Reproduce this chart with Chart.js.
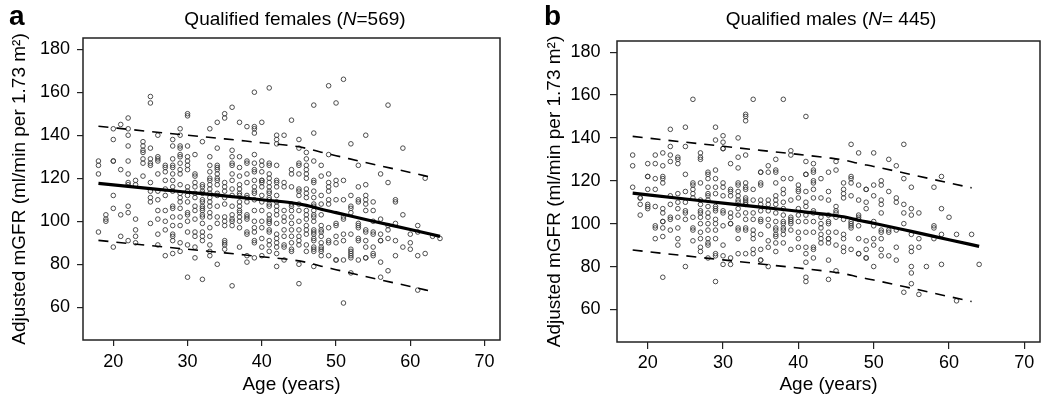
<!DOCTYPE html>
<html><head><meta charset="utf-8">
<script src="https://cdn.jsdelivr.net/npm/chart.js@4.4.0/dist/chart.umd.min.js"></script>
<style>
html,body{margin:0;padding:0;background:#fff;}
body{width:1050px;height:405px;position:relative;overflow:hidden;font-family:"Liberation Sans",Arial,sans-serif;}
.cw{position:absolute;top:0;height:405px;}
.lbl{position:absolute;font-weight:bold;font-size:28px;line-height:1;color:#000;}
.ttl{position:absolute;font-size:19px;line-height:1;color:#000;white-space:nowrap;transform:translateX(-50%);}
</style></head><body>
<div class="cw" style="left:0;width:520px"><canvas id="ca" width="520" height="405"></canvas></div>
<div class="cw" style="left:535px;width:515px"><canvas id="cb" width="515" height="405"></canvas></div>
<div class="lbl" style="left:9px;top:2px">a</div>
<div class="lbl" style="left:544px;top:2px">b</div>
<div class="ttl" style="left:295px;top:9px">Qualified females (<i>N</i>=569)</div>
<div class="ttl" style="left:831px;top:9px">Qualified males (<i>N</i>= 445)</div>
<script>
// ---- data ----
const ageGroups = [18,19,20,21,22,23,24,25,26,27,28,29,30,31,32,33,34,35,36,37,38,39,40,41,42,43,44,45,46,47,48,49,50,51,52,53,54,55,56,57,58,59,60,61,62,63,64];
const femaleGFR = [
[128,126,122,95],
[103,101,100],
[143,138,128,128,112,106,88],
[145,124,103,93],
[148,143,140,135,128,122,118,117,107,104,91],
[119,117,101,96,93,90],
[137,135,133,132,129,127,121],
[158,155,134,129,127,126,118,114,111,109,99],
[140,130,129,128,122,114,110,105,101,94,89],
[126,125,123,119,115,112,105,100,96,84],
[138,135,129,126,125,122,119,116,114,107,106,102,98,94,93,91,85],
[143,140,135,134,131,130,127,124,122,117,113,111,109,106,102,98,90,86],
[150,149,135,130,128,126,124,116,114,112,109,104,103,100,95,89,74],
[131,122,121,118,116,113,111,107,105,101,95,93,88,83],
[137,117,116,114,113,110,109,107,106,105,103,102,99,95,93,91,73],
[143,130,126,123,120,119,117,115,113,111,109,107,104,102,97,93,89,86,84],
[146,134,126,125,124,122,120,119,117,113,112,107,102,99,80],
[150,148,118,116,114,111,108,102,100,98,91,90,89,87],
[153,133,130,127,126,122,119,115,112,107,103,101,100,98,70],
[146,130,125,121,117,115,113,112,109,107,105,104,102,100,97,88],
[144,128,127,122,118,112,111,109,103,102,101,95,94,84,81],
[160,144,143,141,131,127,124,123,119,116,114,113,110,105,100,97,95,91,90,83],
[146,128,126,123,119,119,118,116,112,109,105,100,97,92,88,84],
[162,127,126,122,120,118,116,114,113,111,110,108,107,103,101,100,99,96,95,91,89,86],
[140,138,136,126,119,118,116,112,109,107,105,103,99,94,92,90,88,85,79],
[140,118,116,105,102,100,96,93,89,88,82],
[147,124,122,116,108,107,105,102,99,96,93,90,87,86],
[138,134,127,126,122,115,114,112,108,105,100,96,93,91,89,80,71],
[132,129,126,124,122,120,115,113,111,105,103,101,98,96,94,89,86],
[154,141,128,119,118,114,111,108,107,105,103,102,100,96,95,94,92,91,88,87,86,79],
[126,121,112,108,103,98,96,95,93,90,88,87,86,84],
[163,131,122,118,116,114,110,108,97,91,90,84],
[155,119,117,110,99,98,93,90,82,82],
[166,119,110,102,101,94,91,82,62],
[136,112,107,106,104,94,87,86,85,84,83,76],
[126,116,110,109,99,98,97,92,91,82],
[140,117,112,110,108,105,96,95,91,88,83,83],
[109,105,100,95,94,88,85,84],
[122,101,94,91,91,81,74],
[154,118,98,96,92,77],
[110,109,99,91,84],
[134,103,88],
[94,90,87],
[98,95,84,68],
[120,85],
[93],
[92]
];
const maleGFR = [
[132,127,117],
[112,112,109,104],
[128,122,122,116,109,108,107],
[132,128,121,116,108,99,98,93],
[133,127,122,121,119,107,105,101,101,98,94,75],
[144,136,132,129,113,109,103,102,97],
[131,130,128,114,110,107,103,98,93,90],
[145,136,123,115,110,106,105,102,80],
[158,119,118,116,114,112,103,98,97,92],
[133,131,130,119,111,109,106,105,103,100,96,93,89,87],
[124,123,121,117,114,113,111,108,105,103,100,97,93,91,90,84],
[145,139,125,121,117,114,108,107,106,102,100,97,93,86,85,73],
[141,138,135,135,119,117,113,106,105,99,90,85,81],
[128,116,115,113,105,103,100,100,84,81],
[140,131,126,119,118,115,113,111,110,107,104,98,97,93,86],
[151,150,148,132,119,117,116,112,111,110,109,105,102,98,97,86],
[158,116,111,105,102,97,95,93,88,86],
[124,124,119,118,111,109,106,102,101,95,88,83,83],
[127,124,111,109,106,102,99,92,89,80],
[130,125,124,119,113,111,109,105,101,98,97,95,94,91,87],
[158,121,116,114,110,107,104,101,100,98,97,95,91],
[134,132,121,111,103,102,101,100,97,88],
[118,116,115,112,107,104,101,96,93,89],
[150,129,123,123,115,110,108,104,101,96,89,86,82,75,73],
[128,125,124,120,119,116,112,106,105,101,96,89,88,84],
[121,112,103,100,98,95,93,91],
[124,115,111,104,101,100,96,93,93,91,83,74],
[129,125,108,106,105,103,96,90,78],
[119,116,114,112,102,95,93,89,87],
[137,122,121,119,113,101,100,99,98,88],
[133,118,111,104,103,102,99,93,86,86],
[116,116,110,107,92,88,84,84],
[133,118,113,101,99,93,90,80],
[120,118,111,109,105,97,96,93,88,85],
[130,115,97,96,85],
[127,112,110,97,89,83],
[137,121,109,105,100,68],
[117,107,104,95,89,87,80,77,72],
[105,93,89,67],
[80],
[117,99,98,93],
[122,107,95,81],
[103],
[95,64],
[],
[95],
[81]
];
const fitAges = [18,25,30,35,40,44,46,48,50,55,60,64];
const femaleFit = [117.6,115.2,113.5,111.8,110,108.6,107.4,105.6,104,100,96.2,93];
const maleFit = [114.2,111.5,109.6,107.7,105.8,104.2,103.2,101.6,100.2,96.4,92.5,89.4];
const bandAges = [18,25,30,35,40,44,46,48,50,55,60,63];
const femaleUpper = [144.2,141.7,140,138.3,136.5,135.1,133.9,132.1,130.5,126.5,122.7,120.3];
const femaleLower = [91.1,88.7,87,85.3,83.5,82.1,80.9,79.1,77.5,73.5,69.7,67.3];
const maleUpper = [140.7,138,136.1,134.2,132.3,130.7,129.7,128.1,126.7,122.9,119,116.7];
const maleLower = [87.7,85,83.1,81.2,79.3,77.7,76.7,75.1,73.7,69.9,66,63.7];
const xTicks = [20,30,40,50,60,70];
const yTicks = [60,80,100,120,140,160,180];
const xTitle = 'Age (years)';
const yTitle = 'Adjusted mGFR (ml/min per 1.73 m\u00B2)';

// ---- drawing ----
const FONT = '"Liberation Sans", Arial, Helvetica, sans-serif';
const boxPlugin = {
  id: 'box',
  afterDatasetsDraw(chart) {
    const {ctx, chartArea: a} = chart;
    ctx.save();
    ctx.strokeStyle = '#222';
    ctx.lineWidth = 1.5;
    ctx.strokeRect(a.left, a.top, a.right - a.left, a.bottom - a.top);
    ctx.restore();
  }
};
function toPts(xs, ys) { return xs.map((x, i) => ({x: x, y: ys[i]})); }
function makePanel(id, groups, values, fit, upper, lower, g) {
  const pts = [];
  groups.forEach((a, i) => values[i].forEach(v => pts.push({x: a, y: v})));
  const lineDs = (data, w, dash) => ({
    type: 'line', data: data, borderColor: '#000', borderWidth: w, borderDash: dash,
    pointRadius: 0, fill: false, cubicInterpolationMode: 'monotone', clip: false
  });
  new Chart(document.getElementById(id), {
    type: 'scatter',
    data: {
      datasets: [
        lineDs(toPts(fitAges, fit), 3.2, []),
        lineDs(toPts(bandAges, upper), 1.6, [10, 8]),
        lineDs(toPts(bandAges, lower), 1.6, [10, 8]),
        {
          type: 'scatter', data: pts, pointStyle: 'circle', pointRadius: 2.3,
          pointBorderWidth: 0.9, borderColor: '#3a3a3a', backgroundColor: 'rgba(0,0,0,0)',
          pointBackgroundColor: 'rgba(0,0,0,0)', pointBorderColor: '#3a3a3a'
        }
      ]
    },
    options: {
      responsive: false, animation: false, events: [],
      layout: {autoPadding: false, padding: {left: 0, top: g.top, right: g.padR, bottom: 0}},
      plugins: {legend: {display: false}, tooltip: {enabled: false}},
      scales: {
        x: {
          type: 'linear', min: 15.92, max: 72.08,
          afterBuildTicks: s => { s.ticks = xTicks.map(v => ({value: v})); },
          afterFit: s => { s.height = g.xH; },
          border: {display: false},
          grid: {drawOnChartArea: false, drawTicks: true, tickLength: g.tl, color: '#222', lineWidth: 1.2},
          ticks: {color: '#000', font: {family: FONT, size: 18}, padding: g.xPad, maxRotation: 0, autoSkip: false},
          title: {display: true, text: xTitle, color: '#000', font: {family: FONT, size: 19}, padding: {top: 0, bottom: 8.6}}
        },
        y: {
          type: 'linear', min: 44.8, max: 185.2,
          afterBuildTicks: s => { s.ticks = yTicks.map(v => ({value: v})); },
          afterFit: s => { s.width = g.yW; },
          border: {display: false},
          grid: {drawOnChartArea: false, drawTicks: true, tickLength: g.tl, color: '#222', lineWidth: 1.2},
          ticks: {color: '#000', font: {family: FONT, size: 18}, padding: g.yPad, autoSkip: false},
          title: {display: true, text: yTitle, color: '#000', font: {family: FONT, size: 19}, padding: {top: 8.6, bottom: 0}}
        }
      }
    },
    plugins: [boxPlugin]
  });
}
makePanel('ca', ageGroups, femaleGFR, femaleFit, femaleUpper, femaleLower,
  {top: 38, padR: 20, xH: 65, yW: 83, tl: 6, xPad: 5, yPad: 7});
makePanel('cb', ageGroups, maleGFR, maleFit, maleUpper, maleLower,
  {top: 41, padR: 10, xH: 63, yW: 82, tl: 7, xPad: 3.5, yPad: 9.5});
</script>
</body></html>
